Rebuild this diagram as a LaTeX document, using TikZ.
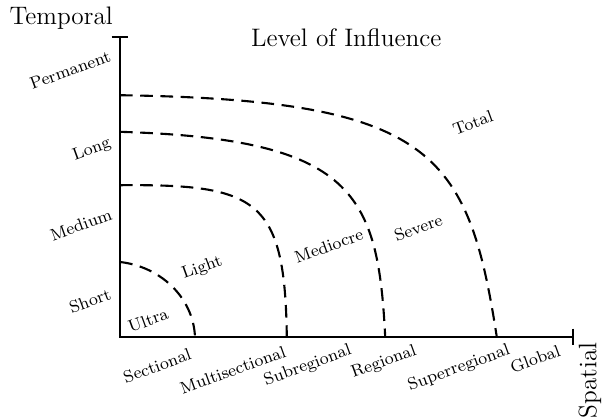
\documentclass[tikz,border=0pt]{standalone}
\usepackage{tikz}
\usetikzlibrary{arrows.meta,positioning}

\begin{document}
\begin{tikzpicture}[
  every node/.style={font=\footnotesize},
  axis/.style={{Bar[width=8pt]}-{Bar[width=8pt]}, line width=1pt},
  level/.style={line width=1pt, dash pattern=on 6pt off 3.6pt},
  scale label/.style={rotate=20, inner sep=0pt},
  title/.style={font=\large}
]
\useasboundingbox (-2,-1.367) rectangle (8.05,5.617);

\coordinate (O) at (0,0);
\coordinate (ytop) at (0,5.02);
\coordinate (xend) at (7.57,0);

% curve end points
\coordinate (ultraY) at (0,1.25);   \coordinate (ultraX) at (1.25,0);
\coordinate (lightY) at (0,2.53);   \coordinate (lightX) at (2.78,0);
\coordinate (medY) at (0,3.42);     \coordinate (medX) at (4.42,0);
\coordinate (sevY) at (0,4.03);     \coordinate (sevX) at (6.28,0);

\draw[axis] (ytop) -- (O) -- (xend);

\draw[level] (ultraY) .. controls (0.65,1.18) and (1.22,0.68) .. (ultraX);
\draw[level] (lightY) .. controls (2.3,2.55) and (2.75,2.3) .. (lightX);
\draw[level] (medY) .. controls (3.9,3.3) and (4.3,2.4) .. (medX);
\draw[level] (sevY) .. controls (5.2,3.95) and (5.8,3.1) .. (sevX);

% axis titles
\node[title] (temporal) at (-0.98,5.32) {Temporal};
\node[title, rotate=90] (spatial) at (7.83,-0.72) {Spatial};
\node[title] (influence) at (3.77,4.98) {Level of Influence};

% temporal scale
\node[scale label] (perm) at (-0.83,4.45) {Permanent};
\node[scale label] (long) at (-0.47,3.12) {Long};
\node[scale label] (medium) at (-0.65,1.87) {Medium};
\node[scale label] (short) at (-0.5,0.6) {Short};

% spatial scale
\node[scale label] (sect) at (0.62,-0.48) {Sectional};
\node[scale label] (multi) at (1.88,-0.55) {Multisectional};
\node[scale label] (subreg) at (3.13,-0.48) {Subregional};
\node[scale label] (reg) at (4.4,-0.42) {Regional};
\node[scale label] (superreg) at (5.65,-0.52) {Superregional};
\node[scale label] (global) at (6.92,-0.37) {Global};

% levels
\node[scale label] (ultra) at (0.47,0.28) {Ultra};
\node[scale label] (light) at (1.37,1.15) {Light};
\node[scale label] (mediocre) at (3.48,1.52) {Mediocre};
\node[scale label] (severe) at (4.97,1.82) {Severe};
\node[scale label] (total) at (5.88,3.57) {Total};
\end{tikzpicture}
\end{document}
